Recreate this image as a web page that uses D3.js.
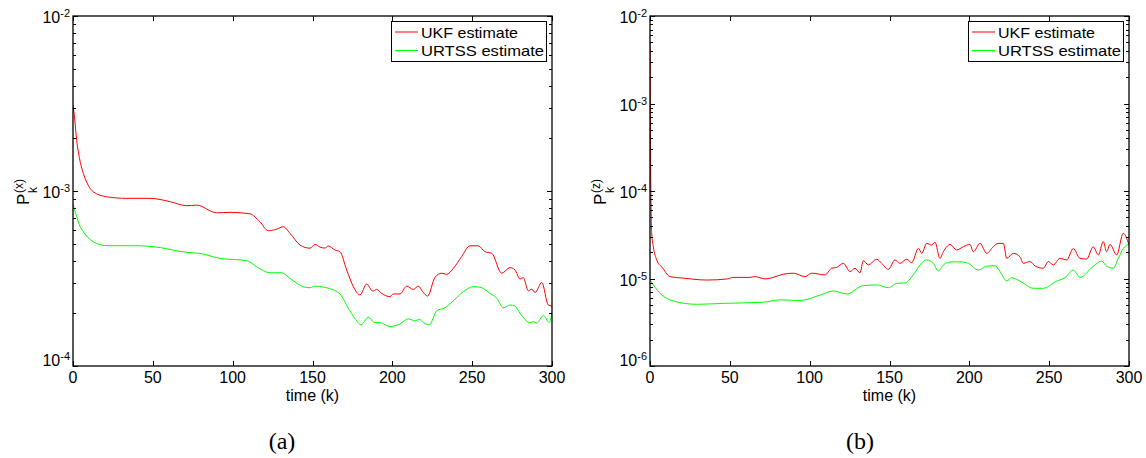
<!DOCTYPE html>
<html>
<head>
<meta charset="utf-8">
<script src="https://cdn.jsdelivr.net/npm/d3@7"></script>
<style>
  body { margin: 0; background: #fff; }
  svg { display: block; }
  text { font-family: "Liberation Sans", Arial, Helvetica, sans-serif; fill: #000; }
  .caption { font-family: "Liberation Serif", "DejaVu Serif", serif; }
</style>
</head>
<body>
<svg id="fig" width="1146" height="458"></svg>
<script>
// Shared axis / legend content
const xTicks = [0, 50, 100, 150, 200, 250, 300];
const xDomain = [0, 300];
const seriesNames = ["UKF estimate", "URTSS estimate"];
const seriesColors = ["#ff0000", "#00ff00"];
const captions = ["(a)", "(b)"];
const yDomainA = [1e-4, 1e-2];
const yDomainB = [1e-6, 1e-2];

// Panel (a): covariance of x
const kUkfA = [0, 1, 2.3, 4, 6.5, 9.5, 12.7, 21.1, 33.6, 48.2, 60.8, 71.2, 77.5, 90, 98.3, 110.9,
  117, 122.3, 127.6, 131.7, 135.9, 142.2, 148.4, 151.6, 154.7, 157.8, 159.9, 164.1, 167.2, 171.4,
  175.6, 179.8, 183.9, 187.7, 190.2, 193.3, 198.5, 200.6, 204.8, 209, 213.1, 216.3, 219, 222.1,
  226.7, 230.9, 234, 238.2, 243.4, 248.6, 253.8, 258, 262.2, 268.5, 273.7, 276.8, 280, 282,
  285.2, 287.3, 289.4, 293.6, 297.7, 300];
const ukfA = [3.1e-3, 2.61e-3, 1.95e-3, 1.55e-3, 1.26e-3, 1.08e-3, 9.9e-4, 9.27e-4, 9.08e-4, 9.08e-4,
  8.69e-4, 8.24e-4, 8.3e-4, 7.51e-4, 7.55e-4, 7.4e-4, 6.68e-4, 5.93e-4, 6.05e-4, 6.25e-4, 5.73e-4,
  4.91e-4, 4.71e-4, 4.95e-4, 4.78e-4, 4.72e-4, 4.85e-4, 4.6e-4, 4.5e-4, 3.54e-4, 2.84e-4, 2.55e-4,
  2.94e-4, 2.68e-4, 2.74e-4, 2.6e-4, 2.49e-4, 2.58e-4, 2.58e-4, 2.86e-4, 2.74e-4, 2.86e-4, 2.66e-4,
  2.51e-4, 3.21e-4, 3.39e-4, 3.34e-4, 3.61e-4, 4.22e-4, 4.86e-4, 4.86e-4, 4.5e-4, 4.41e-4, 3.39e-4,
  3.65e-4, 3.54e-4, 3.14e-4, 3.2e-4, 2.69e-4, 2.75e-4, 2.63e-4, 3.0e-4, 2.23e-4, 2.2e-4];

const kUrtssA = [0, 1, 2.3, 4, 6.5, 9.5, 12.7, 21.1, 37.8, 50.3, 71.2, 79.5, 92, 108.8, 115, 123.4,
  130.7, 135.9, 143.2, 148.4, 151.6, 159.9, 167.2, 172.4, 176.6, 180.4, 184.9, 189.1, 192.2, 198.5,
  201.7, 204.8, 210, 214.2, 216.9, 219.8, 223.2, 227.8, 233, 238.2, 244.5, 250.7, 254.9, 261.2,
  265.4, 269.5, 273.7, 276.8, 280, 286.2, 288.3, 290.4, 294.6, 298.3, 300];
const urtssA = [8.43e-4, 7.8e-4, 7.13e-4, 6.4e-4, 5.85e-4, 5.4e-4, 5.13e-4, 4.87e-4, 4.87e-4, 4.81e-4,
  4.46e-4, 4.4e-4, 4.12e-4, 4.0e-4, 3.69e-4, 3.41e-4, 3.41e-4, 3.17e-4, 2.86e-4, 2.8e-4, 2.86e-4,
  2.78e-4, 2.58e-4, 2.14e-4, 1.87e-4, 1.72e-4, 1.9e-4, 1.77e-4, 1.77e-4, 1.68e-4, 1.7e-4, 1.74e-4,
  1.86e-4, 1.81e-4, 1.85e-4, 1.76e-4, 1.72e-4, 2.07e-4, 2.15e-4, 2.36e-4, 2.66e-4, 2.84e-4, 2.82e-4,
  2.6e-4, 2.44e-4, 2.15e-4, 2.23e-4, 2.2e-4, 2.0e-4, 1.77e-4, 1.79e-4, 1.76e-4, 1.94e-4, 1.77e-4, 2.05e-4];

// Panel (b): covariance of z
const kUkfB = [0, 0.6, 1.06, 2.1, 4.2, 5.2, 7.3, 12.5, 20.9, 35.5, 48, 52.2, 62.6, 65.8, 72, 77.2,
  83.5, 89.8, 97.1, 101.3, 109.6, 113.8, 116.9, 121.1, 125.3, 128.4, 131.5, 133.6, 136.8, 142,
  145.1, 149.3, 153.4, 156.5, 160.8, 163.9, 168.1, 170.2, 173.3, 176.4, 178.5, 181.6, 183.7, 187.9,
  192.1, 196.2, 200.4, 202.5, 206.7, 210.9, 215, 218.1, 221.3, 223.4, 227.5, 231.7, 233.8, 238,
  241.2, 246.3, 249.5, 252.6, 256.8, 261, 265.1, 269.3, 273.5, 277.6, 280.8, 283.9, 286, 288.1,
  292.3, 296.4, 300];
const ukfB = [5.1e-3, 7.9e-5, 3.3e-5, 2.3e-5, 1.63e-5, 1.49e-5, 1.36e-5, 1.05e-5, 1.01e-5, 9.6e-6,
  9.87e-6, 1.03e-5, 1.03e-5, 1.05e-5, 9.9e-6, 1.03e-5, 1.12e-5, 1.15e-5, 1.05e-5, 1.15e-5, 1.1e-5,
  1.31e-5, 1.34e-5, 1.49e-5, 1.2e-5, 1.31e-5, 1.16e-5, 1.6e-5, 1.43e-5, 1.66e-5, 1.49e-5, 1.27e-5,
  1.63e-5, 1.49e-5, 1.66e-5, 1.52e-5, 2.21e-5, 1.94e-5, 2.52e-5, 2.41e-5, 2.6e-5, 1.7e-5, 2.02e-5,
  2.45e-5, 2.12e-5, 2.31e-5, 2.45e-5, 2.02e-5, 2.52e-5, 1.94e-5, 2.31e-5, 2.52e-5, 2.52e-5, 1.7e-5,
  1.94e-5, 1.77e-5, 1.49e-5, 1.56e-5, 1.39e-5, 1.31e-5, 1.56e-5, 1.43e-5, 1.7e-5, 1.63e-5, 2.2e-5,
  1.7e-5, 1.67e-5, 2.3e-5, 1.86e-5, 2.64e-5, 2.02e-5, 2.45e-5, 1.86e-5, 3.29e-5, 2.4e-5];

const kUrtssB = [0, 6.3, 14.6, 29.2, 45.9, 71, 81.4, 93.9, 106.5, 114.8, 123.2, 133.6, 142, 149.3,
  154.5, 159.7, 164.9, 169.1, 173.3, 177.4, 180.6, 183.7, 188.9, 194.2, 199.4, 205.6, 210.9, 216.1,
  219.2, 223.4, 226.5, 231.7, 240.1, 246.3, 254.7, 259.9, 265.1, 269.3, 277.6, 282.9, 286, 290.2,
  293.3, 296.4, 300];
const urtssB = [9.6e-6, 6.77e-6, 5.53e-6, 5.07e-6, 5.2e-6, 5.35e-6, 5.7e-6, 5.6e-6, 6.47e-6, 7.2e-6,
  6.65e-6, 8.3e-6, 8.44e-6, 7.85e-6, 8.8e-6, 8.9e-6, 1.1e-5, 1.43e-5, 1.63e-5, 1.49e-5, 1.22e-5,
  1.43e-5, 1.55e-5, 1.55e-5, 1.49e-5, 1.25e-5, 1.38e-5, 1.4e-5, 1.2e-5, 9.4e-6, 1.02e-5, 9.35e-6,
  7.73e-6, 7.73e-6, 9.35e-6, 1.02e-5, 1.25e-5, 1.03e-5, 1.38e-5, 1.58e-5, 1.38e-5, 1.31e-5, 1.7e-5,
  2.2e-5, 2.5e-5];

const svg = d3.select("#fig");

function drawPanel(cfg) {
  const { left, right, top, bottom, yDomain, series, ySup, caption, captionX, id } = cfg;
  const x = d3.scaleLinear().domain(xDomain).range([left, right]);
  const y = d3.scaleLog().domain(yDomain).range([bottom, top]);
  const g = svg.append("g");

  g.append("clipPath").attr("id", id).append("rect")
    .attr("x", left).attr("y", top).attr("width", right - left).attr("height", bottom - top);

  // data lines
  const line = d3.line().x(d => x(d[0])).y(d => y(d[1])).curve(d3.curveMonotoneX);
  series.forEach((s, i) => {
    g.append("path")
      .datum(d3.zip(s.k, s.v))
      .attr("clip-path", `url(#${id})`)
      .attr("fill", "none")
      .attr("stroke", seriesColors[i])
      .attr("stroke-width", 1)
      .attr("d", line);
  });

  // x ticks: inside, on bottom and top edges
  const tickLen = 5, minorLen = 3;
  xTicks.forEach(t => {
    const px = Math.round(x(t)) + 0.5;
    g.append("line").attr("x1", px).attr("x2", px).attr("y1", bottom).attr("y2", bottom - tickLen)
      .attr("stroke", "#000");
    g.append("line").attr("x1", px).attr("x2", px).attr("y1", top).attr("y2", top + tickLen)
      .attr("stroke", "#000");
    g.append("text").attr("x", x(t)).attr("y", bottom + 17)
      .attr("text-anchor", "middle").attr("font-size", 16).text(t);
  });

  // y ticks: decades (major) and 2..9 (minor), both sides
  const lo = Math.round(Math.log10(yDomain[0])), hi = Math.round(Math.log10(yDomain[1]));
  for (let e = lo; e <= hi; e++) {
    const py = Math.round(y(Math.pow(10, e))) + 0.5;
    g.append("line").attr("x1", left).attr("x2", left + tickLen).attr("y1", py).attr("y2", py).attr("stroke", "#000");
    g.append("line").attr("x1", right).attr("x2", right - tickLen).attr("y1", py).attr("y2", py).attr("stroke", "#000");
    const lab = g.append("text")
      .attr("x", left - 3)
      .attr("y", e === lo ? y(Math.pow(10, e)) : y(Math.pow(10, e)) + 7)
      .attr("text-anchor", "end").attr("font-size", 16);
    lab.append("tspan").text("10");
    lab.append("tspan").attr("dy", -6).attr("font-size", 11).text(String(e));
    if (e < hi) {
      for (let m = 2; m <= 9; m++) {
        const pm = Math.round(y(m * Math.pow(10, e))) + 0.5;
        g.append("line").attr("x1", left).attr("x2", left + minorLen).attr("y1", pm).attr("y2", pm).attr("stroke", "#000");
        g.append("line").attr("x1", right).attr("x2", right - minorLen).attr("y1", pm).attr("y2", pm).attr("stroke", "#000");
      }
    }
  }

  // frame
  g.append("rect").attr("x", left).attr("y", top)
    .attr("width", right - left).attr("height", bottom - top)
    .attr("fill", "none").attr("stroke", "#000").attr("stroke-width", 1.3);

  // x-axis title
  g.append("text").attr("x", (left + right) / 2).attr("y", bottom + 35)
    .attr("text-anchor", "middle").attr("font-size", 16).text("time (k)");

  // y-axis title: P with subscript k and superscript (x)/(z)
  const yt = g.append("g").attr("transform", `translate(${left - 44},${(top + bottom) / 2 + 14}) rotate(-90)`);
  yt.append("text").attr("x", 0).attr("y", 0).attr("font-size", 17).text("P");
  yt.append("text").attr("x", 12).attr("y", 8).attr("font-size", 12).text("k");
  yt.append("text").attr("x", 12).attr("y", -6).attr("font-size", 12).text(ySup);

  // legend
  const lx = right - 161, ly = top + 5, lw = 155, lh = 40;
  const leg = g.append("g");
  leg.append("rect").attr("x", lx + 0.5).attr("y", ly + 0.5).attr("width", lw).attr("height", lh)
    .attr("fill", "#fff").attr("stroke", "#000").attr("stroke-width", 1);
  const widths = [97, 123];
  seriesNames.forEach((name, i) => {
    const cy = ly + 11 + i * 18.5;
    leg.append("line").attr("x1", lx + 4).attr("x2", lx + 27).attr("y1", cy).attr("y2", cy)
      .attr("stroke", seriesColors[i]).attr("stroke-width", 1);
    leg.append("text").attr("x", lx + 30).attr("y", cy + 5.5).attr("font-size", 15)
      .attr("textLength", widths[i]).attr("lengthAdjust", "spacingAndGlyphs").text(name);
  });

  // caption
  svg.append("text").attr("class", "caption").attr("x", captionX).attr("y", 449)
    .attr("text-anchor", "middle").attr("font-size", 24).text(caption);
}

drawPanel({
  id: "clipA", left: 73, right: 552, top: 16, bottom: 366, yDomain: yDomainA, ySup: "(x)",
  series: [{ k: kUkfA, v: ukfA }, { k: kUrtssA, v: urtssA }], caption: captions[0], captionX: 282
});
drawPanel({
  id: "clipB", left: 650, right: 1129, top: 16, bottom: 366, yDomain: yDomainB, ySup: "(z)",
  series: [{ k: kUkfB, v: ukfB }, { k: kUrtssB, v: urtssB }], caption: captions[1], captionX: 860
});
</script>
</body>
</html>
